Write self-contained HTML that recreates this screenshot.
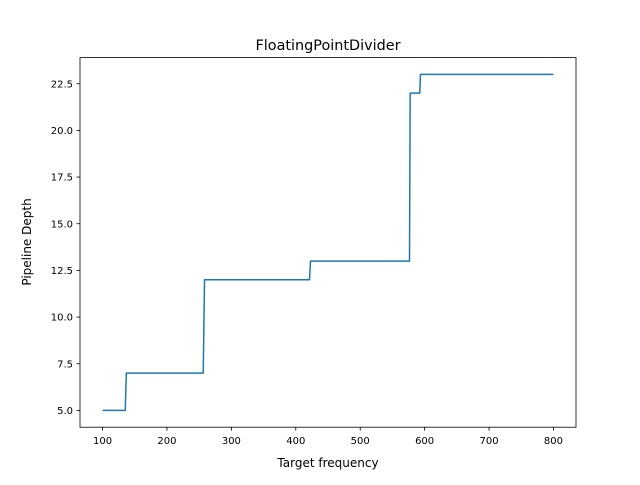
<!DOCTYPE html>
<html><head><meta charset="utf-8"><style>
body{margin:0;background:#fff}
svg text{font-family:"DejaVu Sans","Liberation Sans",sans-serif;fill:#000}
</style></head><body>
<svg id="chart" width="640" height="480">
<rect width="640" height="480" fill="#fff"/>
<g id="ticks"></g>
<path id="line" fill="none" stroke="#1f77b4" stroke-width="1.5" stroke-linejoin="round"/>
<rect x="80" y="57.6" width="496" height="369.6" fill="none" stroke="#000" stroke-width="0.8"/>
<text x="328" y="50" font-size="14.4" text-anchor="middle">FloatingPointDivider</text>
<text x="328" y="467" font-size="12" text-anchor="middle">Target frequency</text>
<text transform="translate(31,242) rotate(-90)" font-size="12" text-anchor="middle">Pipeline Depth</text>
</svg>
<script>
const freqs=[100,135.3,136.9,256.3,258.3,421.3,422.8,576.5,577.6,592.5,593.5,800];
const depths=[5,5,7,7,12,12,13,13,22,22,23,23];
const xTicks=[100,200,300,400,500,600,700,800];
const yTicks=[5.0,7.5,10.0,12.5,15.0,17.5,20.0,22.5];
const X0=80,X1=576,Y0=427.2,Y1=57.6;
const xmin=65,xmax=835,ymin=4.1,ymax=23.9;
const sx=v=>X0+(v-xmin)/(xmax-xmin)*(X1-X0);
const sy=v=>Y0-(v-ymin)/(ymax-ymin)*(Y0-Y1);
const ns="http://www.w3.org/2000/svg";
const g=document.getElementById('ticks');
function mk(t,a){const e=document.createElementNS(ns,t);for(const k in a)e.setAttribute(k,a[k]);g.appendChild(e);return e;}
xTicks.forEach(v=>{
const l=mk('line',{x1:sx(v),x2:sx(v),y1:Y0,y2:Y0+3.5,stroke:'#000','stroke-width':0.8});


const t=mk('text',{x:sx(v),y:Y0+17,'font-size':10,'text-anchor':'middle'});t.textContent=v;


});
yTicks.forEach(v=>{
const l=mk('line',{x1:X0-3.5,x2:X0,y1:sy(v),y2:sy(v),stroke:'#000','stroke-width':0.8});


const t=mk('text',{x:X0-7,y:sy(v)+3.6,'font-size':10,'text-anchor':'end'});t.textContent=v.toFixed(1);


});
document.getElementById('line').setAttribute('d',freqs.map((f,i)=>(i?'L':'M')+sx(f).toFixed(2)+','+sy(depths[i]).toFixed(2)).join(''));
</script>
</body></html>
